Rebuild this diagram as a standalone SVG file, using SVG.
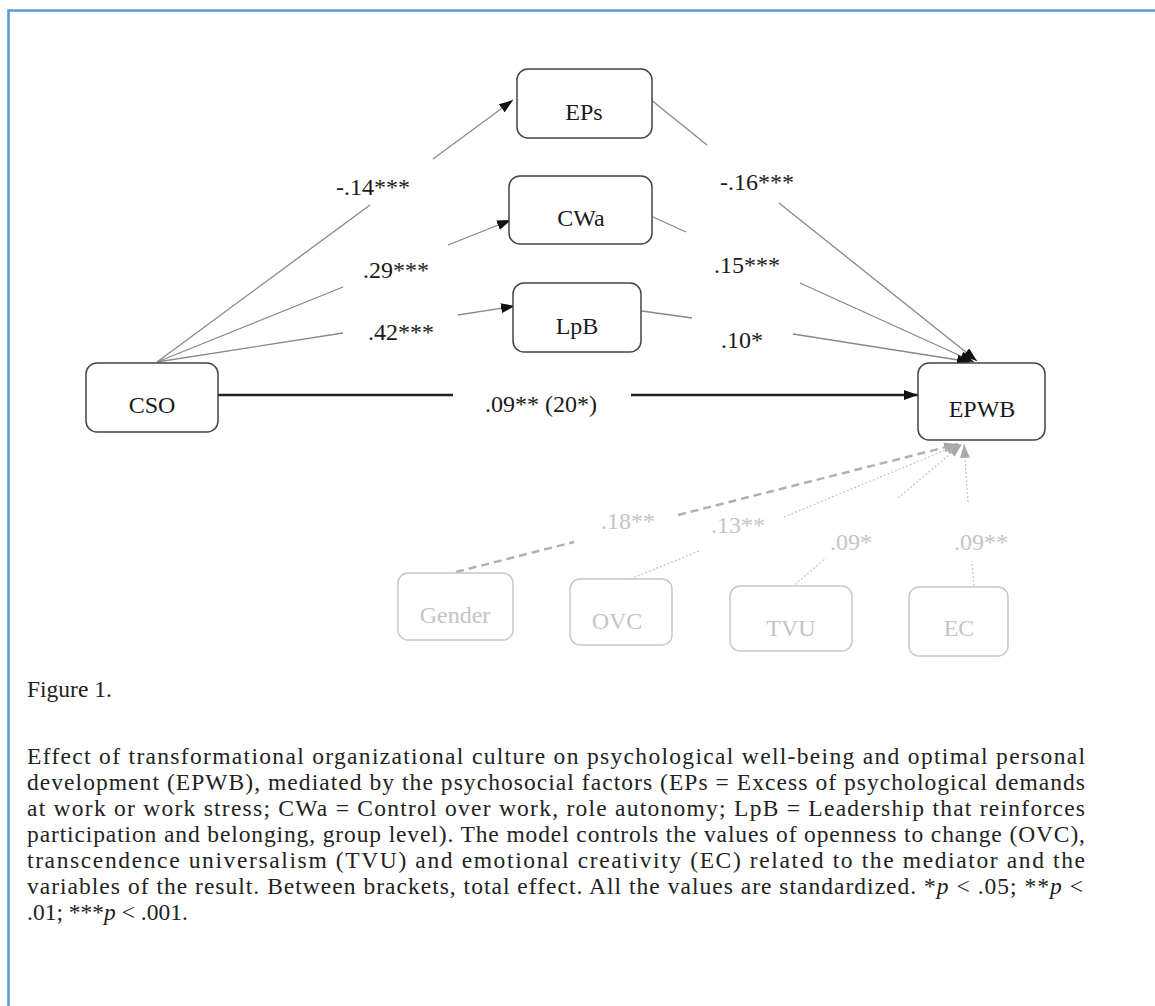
<svg xmlns="http://www.w3.org/2000/svg" width="1155" height="1006" viewBox="0 0 1155 1006">
<style>
.box{fill:#fff;stroke:#444;stroke-width:1.5}
.gbox{fill:#fff;stroke:#c8c8c8;stroke-width:1.5}
.t{font-family:"Liberation Serif","Times New Roman",serif;font-size:24px;fill:#1a1a1a;text-anchor:middle}
.gt{font-family:"Liberation Serif","Times New Roman",serif;font-size:24px;fill:#c4c4c4;text-anchor:middle}
.cap{font-family:"Liberation Serif","Times New Roman",serif;font-size:23.5px;fill:#222}
.thin{stroke:#888;stroke-width:1.3;fill:none}
.main{stroke:#222;stroke-width:2.6;fill:none}
.dash{stroke:#b0b0b0;stroke-width:2.5;stroke-dasharray:8 5;fill:none}
.dot{stroke:#c4c4c4;stroke-width:1.2;stroke-dasharray:2 2;fill:none}
</style>
<defs>
<marker id="ab" viewBox="0 0 14 10" refX="14" refY="5" markerWidth="14" markerHeight="10" markerUnits="userSpaceOnUse" orient="auto"><path d="M0,0 L14,5 L0,10 z" fill="#111"/></marker>
<marker id="ag" viewBox="0 0 14 10" refX="14" refY="5" markerWidth="14" markerHeight="10" markerUnits="userSpaceOnUse" orient="auto"><path d="M0,0 L14,5 L0,10 z" fill="#aaa"/></marker>
</defs>
<rect width="1155" height="1006" fill="#fff"/>
<g id="border" stroke="#5b9bd5" stroke-width="2.6" fill="none">
<path d="M8.5,1006 L8.5,10.5 L1155,10.5"/>
</g>
<g id="connectors">
<path class="thin" d="M157,362 L370,205"/>
<path class="thin" d="M433,159 L513,100" marker-end="url(#ab)"/>
<path class="thin" d="M157,362 L343,287"/>
<path class="thin" d="M448,245 L511,220" marker-end="url(#ab)"/>
<path class="thin" d="M157,362 L343,333"/>
<path class="thin" d="M458,315 L515,306" marker-end="url(#ab)"/>
<path class="thin" d="M650,99 L707,145"/>
<path class="thin" d="M779,203 L977,361" marker-end="url(#ab)"/>
<path class="thin" d="M653,217 L686,232"/>
<path class="thin" d="M800,283 L974,362" marker-end="url(#ab)"/>
<path class="thin" d="M642,311 L692,318"/>
<path class="thin" d="M793,334 L971,362" marker-end="url(#ab)"/>
<path class="main" d="M218,395 L453,395"/>
<path class="main" d="M631,395 L918,395" marker-end="url(#ab)"/>
<path class="dash" d="M456,572 L574,542"/>
<path class="dash" d="M678,515 L958,444" marker-end="url(#ag)"/>
<path class="dot" d="M623,582 L699,551"/>
<path class="dot" d="M784,517 L960,444" marker-end="url(#ag)"/>
<path class="dot" d="M792,587 L826,558"/>
<path class="dot" d="M898,498 L962,444" marker-end="url(#ag)"/>
<path class="dot" d="M974,586 L972,561"/>
<path class="dot" d="M968,502 L964,444" marker-end="url(#ag)"/>
<text class="t" x="373" y="195">-.14***</text>
<text class="t" x="396" y="278">.29***</text>
<text class="t" x="401" y="340">.42***</text>
<text class="t" x="757" y="190">-.16***</text>
<text class="t" x="747" y="273">.15***</text>
<text class="t" x="742" y="348">.10*</text>
<text class="t" x="541" y="412">.09** (20*)</text>
<text class="gt" x="628" y="529">.18**</text>
<text class="gt" x="738" y="533">.13**</text>
<text class="gt" x="851" y="550">.09*</text>
<text class="gt" x="981" y="550">.09**</text>
</g>
<g id="EPs"><rect class="box" x="517" y="69" width="135" height="69" rx="11"/><text class="t" x="584" y="120">EPs</text></g>
<g id="CWa"><rect class="box" x="509" y="176" width="143" height="68" rx="11"/><text class="t" x="581" y="226">CWa</text></g>
<g id="LpB"><rect class="box" x="513" y="283" width="128" height="69" rx="11"/><text class="t" x="577" y="334">LpB</text></g>
<g id="CSO"><rect class="box" x="86" y="363" width="132" height="69" rx="11"/><text class="t" x="152" y="413">CSO</text></g>
<g id="EPWB"><rect class="box" x="918" y="363" width="127" height="77" rx="11"/><text class="t" x="982" y="417">EPWB</text></g>
<g id="Gender"><rect class="gbox" x="398" y="573" width="115" height="67" rx="10"/><text class="gt" x="455" y="623">Gender</text></g>
<g id="OVC"><rect class="gbox" x="570" y="579" width="102" height="66" rx="10"/><text class="gt" x="617" y="629">OVC</text></g>
<g id="TVU"><rect class="gbox" x="730" y="586" width="122" height="65" rx="10"/><text class="gt" x="791" y="636">TVU</text></g>
<g id="EC"><rect class="gbox" x="909" y="587" width="99" height="69" rx="10"/><text class="gt" x="959" y="636">EC</text></g>
<g id="caption">
<text class="cap" x="27" y="697">Figure 1.</text>
<text class="cap" x="27" y="764" textLength="1058" lengthAdjust="spacing">Effect of transformational organizational culture on psychological well-being and optimal personal</text>
<text class="cap" x="27" y="790" textLength="1058" lengthAdjust="spacing">development (EPWB), mediated by the psychosocial factors (EPs = Excess of psychological demands</text>
<text class="cap" x="27" y="816" textLength="1058" lengthAdjust="spacing">at work or work stress; CWa = Control over work, role autonomy; LpB = Leadership that reinforces</text>
<text class="cap" x="27" y="842" textLength="1058" lengthAdjust="spacing">participation and belonging, group level).  The model controls the values of openness to change (OVC),</text>
<text class="cap" x="27" y="868" textLength="1058" lengthAdjust="spacing">transcendence universalism (TVU) and emotional creativity (EC) related to the mediator and the</text>
<text class="cap" x="27" y="894" textLength="1056" lengthAdjust="spacing">variables of the result. Between brackets, total effect. All the values are standardized. *<tspan font-style="italic">p</tspan> &lt; .05; **<tspan font-style="italic">p</tspan> &lt;</text>
<text class="cap" x="27" y="920">.01; ***<tspan font-style="italic">p</tspan> &lt; .001.</text>
</g>
</svg>
